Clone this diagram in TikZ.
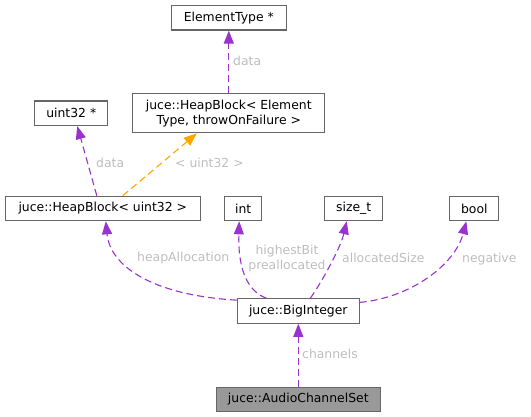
\documentclass[tikz,border=0pt]{standalone}
\usepackage{fontspec}
\setmainfont{DejaVu Sans}
\usetikzlibrary{arrows.meta,calc}
\definecolor{edgepurple}{HTML}{9A32CD}
\definecolor{edgeorange}{HTML}{FFA500}
\definecolor{boxgray}{HTML}{666666}
\definecolor{lblgray}{HTML}{BEBEBE}
\definecolor{curfill}{HTML}{999999}
\begin{document}
\begin{tikzpicture}[x=1pt,y=-1pt,
  cls/.style={draw=boxgray, line width=1.1pt, fill=white, inner sep=0pt, align=center,
    font=\fontsize{12.4}{15}\selectfont, text=black, minimum height=24.5pt},
  cur/.style={cls, fill=curfill},
  lbl/.style={text=lblgray, inner sep=0pt, font=\fontsize{12.4}{15}\selectfont, align=center},
  uses/.style={draw=edgepurple, line width=1.1pt, dash pattern=on 7pt off 4pt,
    -{Triangle[length=13pt,width=10pt,fill=edgepurple]}},
  tmpl/.style={draw=edgeorange, line width=1.1pt, dash pattern=on 7pt off 4pt,
    -{Triangle[length=13pt,width=10pt,fill=edgeorange]}}
]
\useasboundingbox (0,0) rectangle (531,417);
\node[cls, minimum width=114.7pt] (et) at (228.8,17.8) {ElementType *};
\node[cls, minimum width=192pt, minimum height=39pt] (hbet) at (228.8,113.3) {juce::HeapBlock< Element\\Type, throwOnFailure >};
\node[cls, minimum width=73pt] (u32) at (71.3,113.3) {uint32 *};
\node[cls, minimum width=195.3pt] (hb) at (102.8,208.5) {juce::HeapBlock< uint32 >};
\node[cls, minimum width=37.3pt] (int) at (243.2,208.5) {int};
\node[cls, minimum width=58.3pt] (sz) at (353.7,208.5) {size\_t};
\node[cls, minimum width=49pt] (bool) at (474.3,208.5) {bool};
\node[cls, minimum width=121.7pt] (big) at (298.3,311) {juce::BigInteger};
\node[cur, minimum width=164.3pt] (acs) at (298.3,399.5) {juce::AudioChannelSet};

\draw[uses] (hbet.north) -- (et.south);
\node[lbl, anchor=base west] (l1) at (233,65.5) {data};
\draw[uses] ([xshift=-6pt]hb.north) -- ([xshift=6pt]u32.south);
\node[lbl, anchor=base west] (l2) at (96,167.5) {data};
\draw[tmpl] ([xshift=20pt]hb.north) -- ([xshift=-32pt]hbet.south);
\node[lbl, anchor=base west] (l3) at (175,167.5) {< uint32 >};

\draw[uses] (big.170) .. controls (150,295) and (110,265) .. ([xshift=3pt]hb.south);
\node[lbl, anchor=base west] (l4) at (137,262) {heapAllocation};
\draw[uses] ([xshift=-32pt]big.north) .. controls (245,290) and (238,265) .. ([xshift=-4pt]int.south);
\node[lbl] (l5) at (287,259) {highestBit\\preallocated};
\draw[uses] ([xshift=12pt]big.north) .. controls (318,288) and (340,250) .. ([xshift=-7pt]sz.south);
\node[lbl, anchor=base west] (l6) at (342,262.5) {allocatedSize};
\draw[uses] (big.8) .. controls (410,298) and (455,265) .. ([xshift=-8pt]bool.south);
\node[lbl, anchor=base west] (l7) at (462,262.5) {negative};
\draw[uses] (acs.north) -- (big.south);
\node[lbl, anchor=base west] (l8) at (302,358.5) {channels};
\end{tikzpicture}
\end{document}
